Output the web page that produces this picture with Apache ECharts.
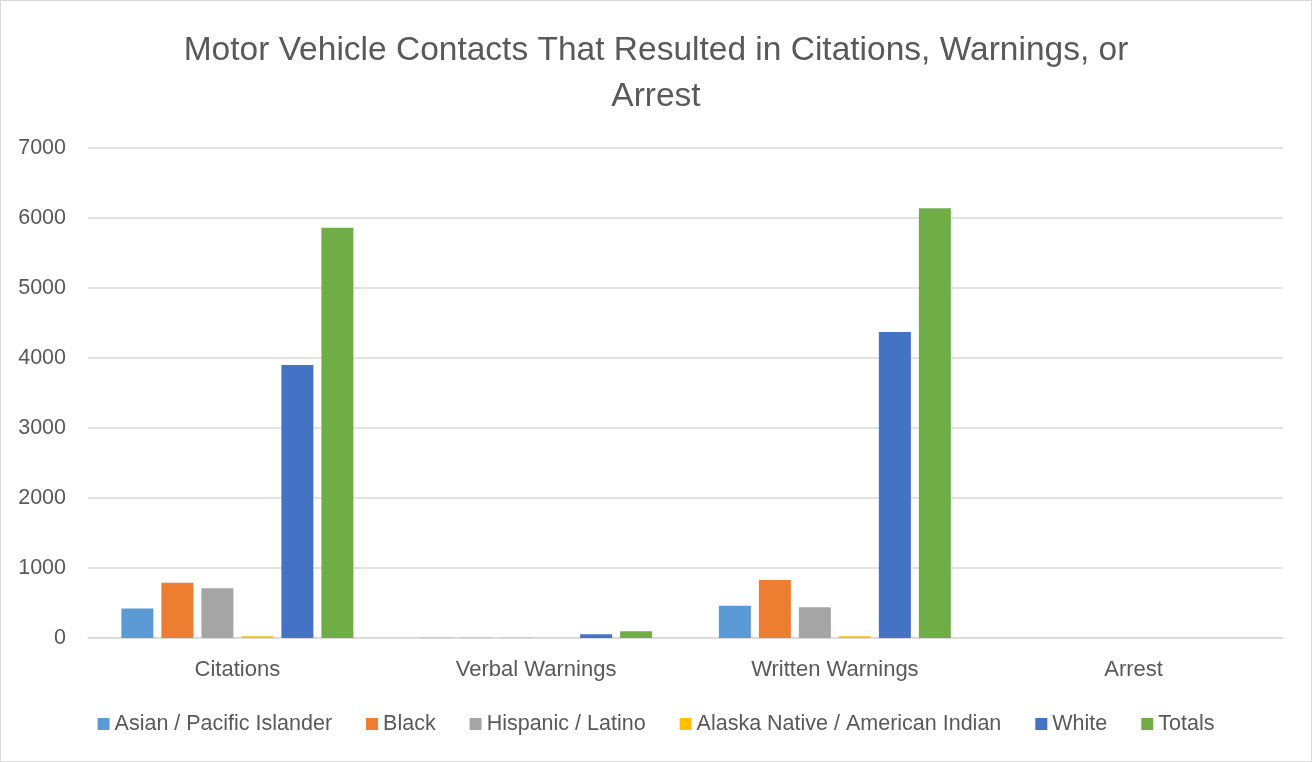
<!DOCTYPE html>
<html>
<head>
<meta charset="utf-8">
<script src="https://cdn.jsdelivr.net/npm/echarts@6/dist/echarts.min.js"></script>
<style>
  html, body { margin: 0; padding: 0; background: #fff; }
  #frame { position: absolute; left: 0; top: 0; width: 1310px; height: 760px; border: 1px solid #d9d9d9; }
  #chart { width: 1312px; height: 762px; }
</style>
</head>
<body>
<div id="frame"></div>
<div id="chart"></div>
<script>
const categories = ['Citations', 'Verbal Warnings', 'Written Warnings', 'Arrest'];
const seriesNames = ['Asian / Pacific Islander', 'Black', 'Hispanic / Latino', 'Alaska Native / American Indian', 'White', 'Totals'];
const asianPacific = [420, 5, 460, 0];
const black = [790, 5, 830, 0];
const hispanicLatino = [710, 5, 440, 0];
const alaskaNative = [25, 0, 25, 0];
const white = [3900, 55, 4370, 0];
const totals = [5860, 95, 6140, 0];
const yTicks = [0, 1000, 2000, 3000, 4000, 5000, 6000, 7000];

const colors = ['#5b9bd5', '#ed7d31', '#a5a5a5', '#ffc000', '#4472c4', '#70ad47'];
const values = [asianPacific, black, hispanicLatino, alaskaNative, white, totals];
const textColor = '#595959';
const font = 'Liberation Sans, Arial, sans-serif';

const chart = echarts.init(document.getElementById('chart'), null, { renderer: 'canvas' });
chart.setOption({
  animation: false,
  color: colors,
  title: {
    text: 'Motor Vehicle Contacts That Resulted in Citations, Warnings, or\nArrest',
    left: 'center',
    top: 23,
    textStyle: { color: textColor, fontFamily: font, fontSize: 33.5, fontWeight: 'normal', lineHeight: 46 }
  },
  legend: {
    bottom: 22,
    left: 'center',
    itemWidth: 12,
    itemHeight: 12,
    itemGap: 34,
    icon: 'rect',
    textStyle: { color: textColor, fontFamily: font, fontSize: 21.5 },
    data: seriesNames
  },
  grid: { left: 88, right: 29, top: 148, bottom: 124, containLabel: false },
  xAxis: {
    type: 'category',
    data: categories,
    axisLine: { lineStyle: { color: '#d9d9d9', width: 1.5 } },
    axisTick: { show: false },
    axisLabel: { color: textColor, fontFamily: font, fontSize: 22, margin: 21 }
  },
  yAxis: {
    type: 'value',
    min: yTicks[0],
    max: yTicks[yTicks.length - 1],
    interval: 1000,
    axisLine: { show: false },
    axisTick: { show: false },
    axisLabel: {
      color: textColor, fontFamily: font, fontSize: 21.5, margin: 22,
      formatter: v => String(v)
    },
    splitLine: { lineStyle: { color: '#d9d9d9', width: 1.5 } }
  },
  series: seriesNames.map((name, i) => ({
    name,
    type: 'bar',
    data: values[i],
    barWidth: 32,
    barGap: '25%',
    itemStyle: { color: colors[i] }
  }))
});
</script>
</body>
</html>
